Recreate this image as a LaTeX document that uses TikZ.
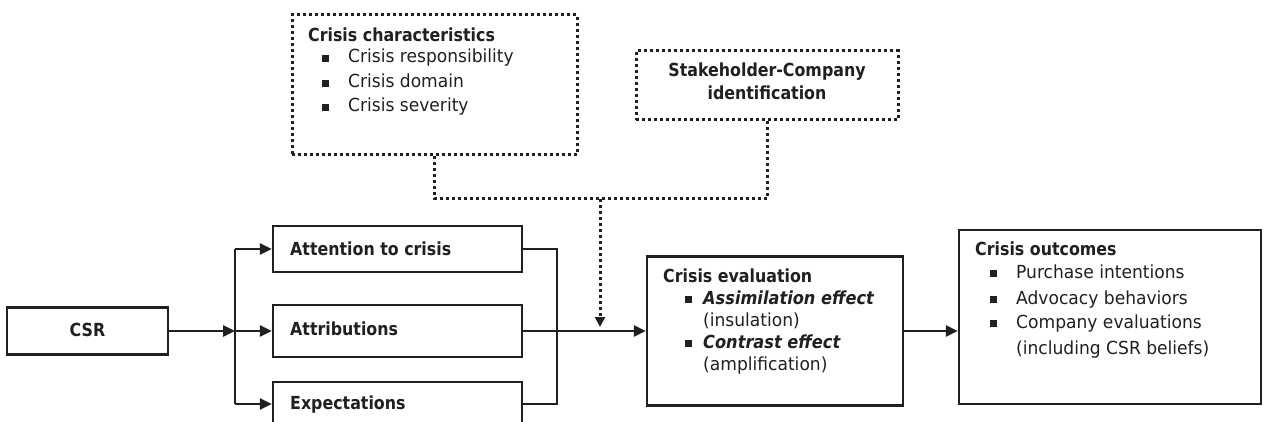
\documentclass[tikz,border=0pt]{standalone}
\usepackage{fontspec}
\setmainfont{DejaVu Sans}[UprightFeatures={FakeStretch=0.95}, ItalicFeatures={FakeStretch=0.95}, BoldFeatures={FakeStretch=0.88}, BoldItalicFeatures={FakeStretch=0.9}]
\usetikzlibrary{arrows.meta}
\definecolor{ink}{HTML}{231F20}
\begin{document}
\begin{tikzpicture}[x=1pt,y=-1pt,
  every node/.style={font=\fontsize{18}{21}\selectfont, text=ink},
  solidbox/.style={draw=ink, line width=2.5pt, inner sep=0pt},
  dotbox/.style={draw=ink, line width=3pt, dash pattern=on 3pt off 3pt, inner sep=0pt},
  txt/.style={inner sep=0pt, anchor=base west},
  ctxt/.style={inner sep=0pt, anchor=base},
  ln/.style={draw=ink, line width=2.5pt},
  arr/.style={ln, -{Triangle[length=12pt,width=11pt]}},
  dotln/.style={draw=ink, line width=3pt, dash pattern=on 3pt off 3pt},
  dotarr/.style={dotln, -{Triangle[length=10pt,width=10pt]}},
  bul/.style={fill=ink, draw=none, inner sep=0pt, minimum size=7pt}]
\useasboundingbox (0,0) rectangle (1263,422);
\clip (0,0) rectangle (1263,422);
\fill[white] (0,0) rectangle (1263,422);

% boxes
\node[solidbox, minimum width=161pt, minimum height=47pt] (csr) at (87.5,331) {};
\node[solidbox, minimum width=249pt, minimum height=46pt] (att) at (397.5,249) {};
\node[solidbox, minimum width=249pt, minimum height=52pt] (attr) at (397.5,331) {};
\node[solidbox, minimum width=249pt, minimum height=44pt] (exp) at (397.5,404) {};
\node[solidbox, minimum width=256pt, minimum height=149pt] (eval) at (775,331) {};
\node[solidbox, minimum width=302pt, minimum height=174pt] (outc) at (1110,317) {};
\node[dotbox, minimum width=285pt, minimum height=140pt] (char) at (434.5,85) {};
\node[dotbox, minimum width=262pt, minimum height=69pt] (stake) at (767,85.5) {};

% texts
\node[ctxt] (tcsr) at (87.5,336) {\bfseries CSR};
\node[txt] (tatt) at (290,255) {\bfseries Attention to crisis};
\node[txt] (tattr) at (290,335) {\bfseries Attributions};
\node[txt] (texp) at (290,409) {\bfseries Expectations};

\node[txt] (tchar) at (308,42) {\bfseries Crisis characteristics};
\node[bul] (bc1) at (325,58.5) {};
\node[bul] (bc2) at (325,83.5) {};
\node[bul] (bc3) at (325,107.5) {};
\node[txt] (tc1) at (348,63) {Crisis responsibility};
\node[txt] (tc2) at (348,88) {Crisis domain};
\node[txt] (tc3) at (348,112) {Crisis severity};

\node[ctxt] (ts1) at (767,77) {\bfseries Stakeholder-Company};
\node[ctxt] (ts2) at (767,100) {\bfseries identification};

\node[txt] (tev) at (663,282) {\bfseries Crisis evaluation};
\node[bul] (be1) at (688,299.5) {};
\node[bul] (be2) at (688,343.5) {};
\node[txt] (te1) at (703,304) {\bfseries\itshape Assimilation effect};
\node[txt] (te2) at (703,326) {(insulation)};
\node[txt] (te3) at (703,348) {\bfseries\itshape Contrast effect};
\node[txt] (te4) at (703,370) {(amplification)};

\node[txt] (tout) at (975,255) {\bfseries Crisis outcomes};
\node[bul] (bo1) at (993,273.5) {};
\node[bul] (bo2) at (993,299.5) {};
\node[bul] (bo3) at (993,323.5) {};
\node[txt] (to1) at (1016,278) {Purchase intentions};
\node[txt] (to2) at (1016,304) {Advocacy behaviors};
\node[txt] (to3) at (1016,328) {Company evaluations};
\node[txt] (to4) at (1016,354) {(including CSR beliefs)};

% connectors
\coordinate (jl) at (235,331);
\coordinate (jr) at (557,331);
\coordinate (dj) at (600,199);
\coordinate (dt) at (600,327);

\draw[arr] (csr.east) -- (jl);
\draw[ln] (jl |- att.west) -- (jl |- exp.west);
\draw[arr] (jl |- att.west) -- (att.west);
\draw[arr] (jl) -- (attr.west);
\draw[arr] (jl |- exp.west) -- (exp.west);

\draw[ln] (att.east) -- (jr |- att.east) -- (jr |- exp.east) -- (exp.east);
\draw[arr] (attr.east) -- (eval.west);
\draw[arr] (eval.east) -- (outc.west |- eval.east);

\draw[dotln] (char.south) -- (char.south |- dj) -- (stake.south |- dj) -- (stake.south);
\draw[dotarr] (dj) -- (dt);
\end{tikzpicture}
\end{document}
